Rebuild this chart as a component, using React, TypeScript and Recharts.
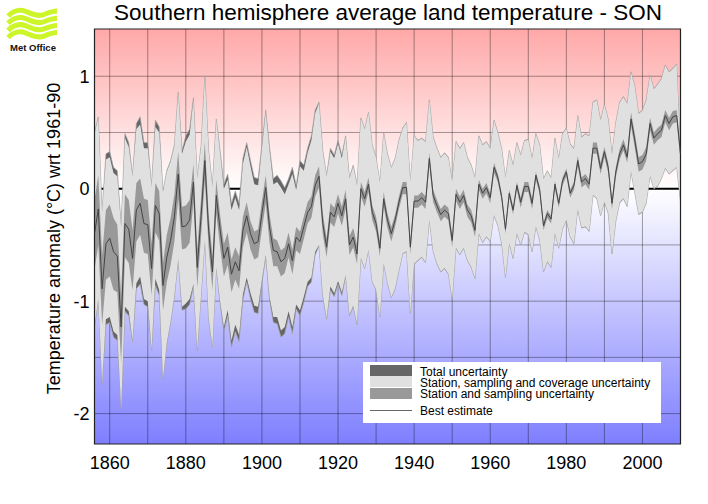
import {
  Area,
  CartesianGrid,
  ComposedChart,
  Legend,
  Line,
  ReferenceArea,
  ReferenceLine,
  XAxis,
  YAxis,
} from 'recharts';

const FONT = '"Liberation Sans", Arial, sans-serif';

const firstYear = 1856;

// 1856-59 then one row per decade
const best = [
  -0.4, -0.18, -0.89, -0.49,
  -0.44, -0.56, -0.6, -1.23, -0.31, -0.36, -0.62, -0.19, -0.13, -0.31,
  -0.32, -0.71, -0.15, -0.22, -0.86, -0.61, -0.46, -0.25, 0.13, -0.34,
  -0.33, -0.28, 0.06, -0.7, -0.25, 0.25, -0.37, -0.74, -0.06, -0.36,
  -0.62, -0.52, -0.76, -0.65, -0.73, -0.37, -0.24, -0.4, -0.49, -0.47,
  -0.22, 0.01, -0.34, -0.55, -0.56, -0.65, -0.62, -0.49, -0.64, -0.43,
  -0.47, -0.34, -0.21, -0.16, 0.03, 0.11, -0.31, -0.52, -0.21, -0.25,
  -0.13, -0.24, -0.09, -0.5, -0.43, -0.58, 0, -0.09, 0.04, -0.21,
  -0.31, -0.53, -0.09, -0.28, -0.4, -0.28, -0.12, 0.01, 0.01, -0.52,
  -0.11, -0.11, -0.08, -0.12, 0.27, -0.06, -0.15, -0.23, -0.19, -0.22,
  -0.46, -0.05, -0.12, -0.06, -0.19, -0.24, -0.37, 0.04, -0.04, 0.01,
  -0.08, 0.19, 0.1, -0.07, -0.36, -0.04, -0.19, 0.03, -0.12, 0.02,
  0.02, -0.13, 0.12, -0.01, -0.33, -0.22, -0.27, 0.04, -0.13, 0.07,
  0.15, -0.04, 0.03, 0.25, 0.06, 0.09, 0.04, 0.36, 0.36, 0.18,
  0.33, 0.19, -0.13, 0.15, 0.31, 0.39, 0.28, 0.62, 0.43, 0.22,
  0.24, 0.31, 0.58, 0.45, 0.49, 0.52, 0.65, 0.58, 0.64, 0.65,
  0.31,
];

const totalHigh = [
  0.5, 0.64, -0.2, 0.31,
  0.33, 0.19, 0.16, -0.33, 0.49, 0.41, 0.12, 0.58, 0.64, 0.41,
  0.41, 0.03, 0.61, 0.55, -0.02, 0.16, 0.25, 0.39, 0.86, 0.34,
  0.47, 0.53, 0.81, 0.1, 0.38, 1.0, 0.34, 0.03, 0.62, 0.34,
  0.04, 0.13, -0.13, -0.02, -0.13, 0.27, 0.41, 0.25, 0.1, 0.09,
  0.39, 0.7, 0.37, 0.09, 0.12, 0.07, 0.01, 0.09, 0.19, 0.03,
  0.25, 0.21, 0.36, 0.47, 0.7, 0.77, 0.34, 0.12, 0.36, 0.3,
  0.43, 0.3, 0.47, 0.1, 0.21, 0.04, 0.63, 0.53, 0.68, 0.39,
  0.28, 0.06, 0.5, 0.31, 0.19, 0.27, 0.43, 0.54, 0.59, 0.07,
  0.47, 0.43, 0.45, 0.42, 0.79, 0.46, 0.36, 0.28, 0.32, 0.28,
  0.07, 0.42, 0.36, 0.41, 0.28, 0.21, 0.1, 0.47, 0.39, 0.42,
  0.36, 0.61, 0.5, 0.36, 0.1, 0.34, 0.21, 0.41, 0.3, 0.43,
  0.44, 0.27, 0.49, 0.39, 0.09, 0.16, 0.1, 0.45, 0.27, 0.49,
  0.54, 0.4, 0.36, 0.65, 0.46, 0.49, 0.47, 0.77, 0.79, 0.61,
  0.75, 0.62, 0.31, 0.59, 0.77, 0.82, 0.76, 1.04, 0.91, 0.67,
  0.7, 0.79, 1.01, 0.89, 0.93, 0.98, 1.1, 1.04, 1.07, 1.11,
  0.31,
];

const totalLow = [
  -1.23, -0.99, -1.73, -1.21,
  -1.19, -1.32, -1.35, -1.96, -1.09, -1.13, -1.36, -0.89, -0.85, -1.03,
  -1.05, -1.44, -0.86, -0.95, -1.7, -1.38, -1.19, -0.96, -0.64, -1.08,
  -1.07, -1.03, -0.87, -1.44, -0.96, -0.47, -1.16, -1.41, -0.71, -1.02,
  -1.27, -1.13, -1.41, -1.27, -1.36, -0.99, -0.83, -0.98, -1.1, -1.11,
  -0.84, -0.61, -0.99, -1.19, -1.2, -1.32, -1.29, -1.14, -1.29, -1.07,
  -1.13, -1.01, -0.87, -0.83, -0.59, -0.51, -0.96, -1.16, -0.9, -0.96,
  -0.85, -0.95, -0.78, -1.13, -1.05, -1.21, -0.62, -0.71, -0.55, -0.83,
  -0.9, -1.14, -0.67, -0.84, -0.97, -0.89, -0.73, -0.58, -0.56, -1.11,
  -0.67, -0.64, -0.61, -0.66, -0.28, -0.56, -0.67, -0.74, -0.71, -0.76,
  -0.98, -0.53, -0.59, -0.53, -0.64, -0.7, -0.8, -0.4, -0.48, -0.43,
  -0.47, -0.24, -0.33, -0.49, -0.79, -0.49, -0.62, -0.4, -0.5, -0.39,
  -0.41, -0.56, -0.34, -0.46, -0.74, -0.65, -0.7, -0.4, -0.53, -0.36,
  -0.28, -0.43, -0.49, -0.19, -0.35, -0.34, -0.38, -0.06, -0.09, -0.24,
  -0.12, -0.22, -0.58, -0.29, -0.13, -0.09, -0.16, 0.15, -0.04, -0.23,
  -0.21, -0.13, 0.11, 0, 0.02, 0.09, 0.18, 0.13, 0.16, 0.19,
  -0.12,
];

// how far the total band sticks out past the coverage band
const totalExtra = [
  0.01, 0.01, 0.01, 0.05,
  0.05, 0.05, 0.05, 0.01, 0.04, 0.04, 0.01, 0.05, 0.07, 0.05,
  0.05, 0.01, 0.06, 0.05, 0.01, 0.01, 0.01, 0.01, 0.01, 0.03,
  0.05, 0.05, 0.02, 0.01, 0.01, 0.01, 0.01, 0.01, 0.01, 0.02,
  0.04, 0.05, 0.06, 0.06, 0.06, 0.05, 0.04, 0.05, 0.06, 0.06,
  0.03, 0.02, 0.03, 0.05, 0.06, 0.06, 0.06, 0.05, 0.06, 0.04,
  0.05, 0.05, 0.04, 0.04, 0.03, 0.01, 0.01, 0.01, 0.03, 0.03,
  0.03, 0.03, 0.01, 0.01, 0.01, 0.01, 0.004, 0.004, 0.004, 0.004,
  0.004, 0.004, 0.004, 0.004, 0.004, 0.004, 0.004, 0.004, 0.004, 0.004,
  0.004, 0.004, 0.004, 0.004, 0.004, 0.004, 0.004, 0.004, 0.004, 0.004,
  0.004, 0.004, 0.004, 0.004, 0.004, 0.004, 0.004, 0.004, 0.004, 0.004,
  0.004, 0.004, 0.004, 0.004, 0.004, 0.004, 0.004, 0.004, 0.004, 0.004,
  0.004, 0.004, 0.004, 0.004, 0.004, 0.004, 0.004, 0.004, 0.004, 0.004,
  0.004, 0.004, 0.004, 0.004, 0.004, 0.004, 0.004, 0.004, 0.004, 0.004,
  0.004, 0.004, 0.004, 0.004, 0.004, 0.004, 0.004, 0.004, 0.004, 0.004,
  0.004, 0.004, 0.004, 0.004, 0.004, 0.004, 0.004, 0.004, 0.004, 0.004,
  0.004,
];

// station and sampling band, distance above and below the best estimate
const stationUp = [
  0.3, 0.3, 0.3, 0.3,
  0.3, 0.3, 0.28, 0.28, 0.26, 0.26, 0.25, 0.24, 0.22, 0.22,
  0.22, 0.22, 0.2, 0.2, 0.2, 0.2, 0.2, 0.2, 0.2, 0.18,
  0.18, 0.18, 0.16, 0.16, 0.16, 0.16, 0.14, 0.14, 0.14, 0.13,
  0.13, 0.13, 0.13, 0.13, 0.13, 0.12, 0.12, 0.11, 0.11, 0.11,
  0.11, 0.11, 0.11, 0.11, 0.1, 0.1, 0.1, 0.1, 0.1, 0.09,
  0.09, 0.09, 0.09, 0.09, 0.09, 0.09, 0.09, 0.08, 0.08, 0.08,
  0.08, 0.08, 0.08, 0.08, 0.08, 0.08, 0.06, 0.06, 0.06, 0.06,
  0.06, 0.06, 0.06, 0.06, 0.06, 0.05, 0.05, 0.05, 0.05, 0.05,
  0.05, 0.05, 0.05, 0.05, 0.05, 0.05, 0.05, 0.05, 0.05, 0.05,
  0.05, 0.05, 0.05, 0.05, 0.05, 0.05, 0.05, 0.04, 0.04, 0.04,
  0.04, 0.04, 0.03, 0.03, 0.03, 0.03, 0.03, 0.03, 0.04, 0.04,
  0.04, 0.04, 0.03, 0.03, 0.03, 0.03, 0.03, 0.03, 0.03, 0.03,
  0.03, 0.03, 0.03, 0.04, 0.04, 0.04, 0.04, 0.05, 0.05, 0.05,
  0.04, 0.04, 0.04, 0.04, 0.04, 0.05, 0.05, 0.06, 0.06, 0.06,
  0.06, 0.06, 0.05, 0.05, 0.05, 0.05, 0.05, 0.05, 0.05, 0.05,
  0.05,
];

const stationDown = [
  0.32, 0.32, 0.32, 0.32,
  0.34, 0.34, 0.32, 0.32, 0.3, 0.3, 0.28, 0.28, 0.28, 0.26,
  0.26, 0.24, 0.24, 0.24, 0.22, 0.22, 0.22, 0.22, 0.22, 0.2,
  0.2, 0.2, 0.18, 0.18, 0.18, 0.18, 0.16, 0.16, 0.16, 0.16,
  0.16, 0.16, 0.16, 0.16, 0.16, 0.15, 0.15, 0.14, 0.14, 0.14,
  0.14, 0.14, 0.14, 0.14, 0.13, 0.13, 0.13, 0.12, 0.12, 0.12,
  0.11, 0.11, 0.1, 0.1, 0.1, 0.1, 0.1, 0.09, 0.09, 0.09,
  0.09, 0.09, 0.09, 0.09, 0.09, 0.09, 0.07, 0.07, 0.07, 0.07,
  0.07, 0.07, 0.07, 0.07, 0.07, 0.06, 0.06, 0.06, 0.06, 0.06,
  0.06, 0.06, 0.06, 0.06, 0.06, 0.06, 0.06, 0.06, 0.06, 0.06,
  0.06, 0.06, 0.06, 0.06, 0.06, 0.06, 0.06, 0.05, 0.05, 0.05,
  0.05, 0.05, 0.04, 0.04, 0.04, 0.04, 0.04, 0.04, 0.05, 0.05,
  0.05, 0.05, 0.04, 0.04, 0.04, 0.04, 0.04, 0.04, 0.04, 0.04,
  0.04, 0.04, 0.04, 0.05, 0.05, 0.05, 0.05, 0.05, 0.05, 0.05,
  0.05, 0.05, 0.05, 0.05, 0.05, 0.05, 0.05, 0.06, 0.07, 0.07,
  0.07, 0.06, 0.06, 0.06, 0.06, 0.06, 0.06, 0.06, 0.06, 0.06,
  0.06,
];

const xLabels = [1860, 1880, 1900, 1920, 1940, 1960, 1980, 2000];
const xGrid = [1860, 1870, 1880, 1890, 1900, 1910, 1920, 1930, 1940, 1950, 1960, 1970, 1980, 1990, 2000];
const yLabels = [-2, -1, 0, 1];
const yGrid = [-2, -1.5, -1, -0.5, 0.5, 1];
const yMin = -2.27;
const yMax = 1.42;
const legendOrder = [
  'Total uncertainty',
  'Station, sampling and coverage uncertainty',
  'Station and sampling uncertainty',
  'Best estimate',
];

const rows = best.map((b, i) => ({
  year: firstYear + i,
  best: b,
  total: [totalLow[i], totalHigh[i]],
  coverage: [totalLow[i] + totalExtra[i], totalHigh[i] - totalExtra[i]],
  station: [b - stationDown[i], b + stationUp[i]],
}));

function LegendBox({ payload }: any) {
  const items = legendOrder.map((name) => (payload ?? []).find((p: any) => p.value === name)).filter(Boolean);
  return (
    <div style={{ background: '#fff', width: 298, height: 61, position: 'relative', fontFamily: FONT, fontSize: 12, color: '#000' }}>
      {items.map((item: any, i: number) => {
        const isLine = item.type === 'line';
        const top = isLine ? 42 : 3 + i * 11.4;
        return (
          <div key={item.value} style={{ position: 'absolute', left: 7, top, height: 11, whiteSpace: 'nowrap', lineHeight: '11px' }}>
            {isLine ? (
              <div style={{ position: 'absolute', left: 0, top: 6, width: 42, height: 1, background: '#666' }} />
            ) : (
              <div style={{ position: 'absolute', left: 0, top: 0, width: 42, height: 11, background: item.payload?.fill ?? item.color }} />
            )}
            <span style={{ position: 'absolute', left: 50, top: 1.5 }}>{item.value}</span>
          </div>
        );
      })}
    </div>
  );
}

function MetOfficeLogo() {
  const waves = [0, 7.2, 14.4, 21.6];
  return (
    <g>
      {waves.map((dy) => (
        <path
          key={dy}
          transform={`translate(0 ${dy})`}
          d="M8,16 C14,10 20,9 26,11.5 C32,14 38,17 44,14.5 C49,12.5 53,11 57,11"
          fill="none"
          stroke="#ccf52a"
          strokeWidth={5}
        />
      ))}
      <text x={10} y={51} fontFamily={FONT} fontWeight="bold" fontSize={9.5} fill="#111">
        Met Office
      </text>
    </g>
  );
}

export default function App() {
  return (
    <div style={{ position: 'absolute', left: 0, top: 0, width: 708, height: 504, background: '#fff' }}>
      <ComposedChart width={708} height={504} data={rows} margin={{ top: 29, right: 27.5, bottom: 30, left: 0 }}>
        <defs>
          <linearGradient id="anomalyBg" x1="0" y1="0" x2="0" y2="1">
            <stop offset="0" stopColor="#ffa8a8" />
            <stop offset="0.385" stopColor="#ffffff" />
            <stop offset="1" stopColor="#7f7fff" />
          </linearGradient>
        </defs>
        <CartesianGrid
          fill="url(#anomalyBg)"
          fillOpacity={1}
          stroke="#000"
          strokeOpacity={0.36}
          strokeWidth={1}
          verticalValues={xGrid}
          horizontalValues={yGrid}
        />
        <ReferenceLine y={0} stroke="#000" strokeWidth={2} zIndex={-50} />
        <XAxis
          dataKey="year"
          type="number"
          domain={[firstYear, 2010]}
          ticks={xLabels}
          height={30}
          axisLine={false}
          tickLine={false}
          tickMargin={6}
          tick={{ fontFamily: FONT, fontSize: 18, fill: '#000' }}
          allowDataOverflow
        />
        <YAxis
          type="number"
          domain={[yMin, yMax]}
          ticks={yLabels}
          width={94.5}
          axisLine={false}
          tickLine={false}
          tickSize={5}
          tickMargin={0}
          tick={{ fontFamily: FONT, fontSize: 18, fill: '#000' }}
          allowDataOverflow
        />
        <Area dataKey="total" name="Total uncertainty" type="linear" fill="#666666" fillOpacity={1} stroke="#a8a8a8" strokeWidth={0.7} dot={false} activeDot={false} legendType="rect" isAnimationActive={false} />
        <Area dataKey="coverage" name="Station, sampling and coverage uncertainty" type="linear" fill="#e0e0e0" fillOpacity={1} stroke="none" dot={false} activeDot={false} legendType="rect" isAnimationActive={false} />
        <Area dataKey="station" name="Station and sampling uncertainty" type="linear" fill="#999999" fillOpacity={1} stroke="none" dot={false} activeDot={false} legendType="rect" isAnimationActive={false} />
        <Line dataKey="best" name="Best estimate" type="linear" stroke="#444" strokeWidth={1} dot={false} activeDot={false} legendType="line" isAnimationActive={false} />
        <ReferenceArea x1={firstYear} x2={2010} y1={yMin} y2={yMax} fill="none" stroke="#222" strokeWidth={1.2} />
        <Legend
          layout="horizontal"
          verticalAlign="middle"
          align="center"
          content={<LegendBox />}
          wrapperStyle={{ left: 363, top: 362, width: 298, height: 61 }}
        />
        <text x={388} y={20} textAnchor="middle" fontFamily={FONT} fontSize={22.5} fill="#000">
          Southern hemisphere average land temperature - SON
        </text>
        <text x={60} y={238.5} transform="rotate(-90 60 238.5)" textAnchor="middle" fontFamily={FONT} fontSize={18} fill="#000">
          Temperature anomaly (°C) wrt 1961-90
        </text>
        <MetOfficeLogo />
      </ComposedChart>
    </div>
  );
}
